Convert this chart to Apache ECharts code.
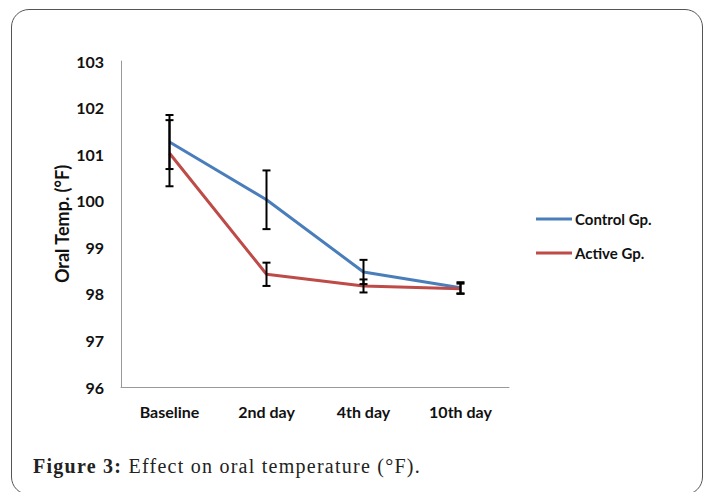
<!DOCTYPE html>
<html>
<head>
<meta charset="utf-8">
<script src="https://cdn.jsdelivr.net/npm/echarts@6/dist/echarts.min.js"></script>
<style>
  html, body { margin: 0; padding: 0; background: #fff; }
  #frame {
    position: absolute; left: 11px; top: 9px; width: 692px; height: 486px;
    border: 1px solid #555; border-radius: 18px; box-sizing: border-box;
  }
  #main { position: absolute; left: 0; top: 0; width: 710px; height: 492px; }
  #caption {
    position: absolute; left: 33px; top: 455px; letter-spacing: 1.25px;
    font-family: "Liberation Serif", "DejaVu Serif", serif; font-size: 20px; color: #222;
  }
</style>
</head>
<body>
<div id="frame"></div>
<div id="main"></div>
<div id="caption"><b>Figure 3:</b> Effect on oral temperature (°F).</div>
<script>
// values
let days = ['Baseline', '2nd day', '4th day', '10th day'];
let controlMean = [101.26, 100.02, 98.47, 98.13];
let controlErr = [0.58, 0.63, 0.26, 0.12];
let activeMean = [101.02, 98.42, 98.17, 98.11];
let activeErr = [0.71, 0.25, 0.14, 0.11];

let blue = '#4a7ebb';
let red = '#be4b48';

// error bar data: [index, low, high]
function errData(mean, err) {
    return mean.map((m, i) => [i, m - err[i], m + err[i]]);
}

function renderErr(params, api) {
    let lo = api.coord([api.value(0), api.value(1)]);
    let hi = api.coord([api.value(0), api.value(2)]);
    let w = 4;
    let st = { stroke: '#000', lineWidth: 2 };
    return {
        type: 'group',
        children: [
            { type: 'line', shape: { x1: lo[0], y1: lo[1], x2: hi[0], y2: hi[1] }, style: st },
            { type: 'line', shape: { x1: lo[0] - w, y1: lo[1], x2: lo[0] + w, y2: lo[1] }, style: st },
            { type: 'line', shape: { x1: hi[0] - w, y1: hi[1], x2: hi[0] + w, y2: hi[1] }, style: st }
        ]
    };
}

let chart = echarts.init(document.getElementById('main'), null, { renderer: 'svg' });
let labelFont = { fontFamily: 'Lato, "Open Sans", sans-serif', fontWeight: 'bold', fontSize: 16, color: '#111' };

let option = {
    animation: false,
    grid: { left: 121, top: 61, width: 388, height: 326 },
    legend: {
        orient: 'vertical',
        left: 536, top: 210,
        padding: 0,
        itemGap: 16,
        itemWidth: 36, itemHeight: 3,
        icon: 'rect',
        textStyle: Object.assign({}, labelFont, { fontSize: 15, lineHeight: 18, padding: [0, 0, 0, -2] }),
        data: ['Control Gp.', 'Active Gp.']
    },
    xAxis: {
        type: 'category',
        data: days,
        boundaryGap: true,
        axisLine: { lineStyle: { color: '#999', width: 1 } },
        axisTick: { show: false },
        axisLabel: Object.assign({ margin: 16 }, labelFont)
    },
    yAxis: {
        type: 'value',
        min: 96, max: 103, interval: 1,
        name: 'Oral Temp. (°F)',
        nameLocation: 'middle',
        nameGap: 50,
        nameMoveOverlap: false,
        nameTextStyle: Object.assign({}, labelFont, { fontSize: 18 }),
        splitLine: { show: false },
        axisLine: { show: true, lineStyle: { color: '#999', width: 1 } },
        axisTick: { show: false },
        axisLabel: Object.assign({ margin: 17 }, labelFont)
    },
    series: [
        {
            name: 'Control Gp.', type: 'line', data: controlMean,
            showSymbol: false, symbol: 'none',
            lineStyle: { color: blue, width: 3 }, itemStyle: { color: blue }, z: 2
        },
        {
            name: 'Active Gp.', type: 'line', data: activeMean,
            showSymbol: false, symbol: 'none',
            lineStyle: { color: red, width: 3 }, itemStyle: { color: red }, z: 2
        },
        { type: 'custom', renderItem: renderErr, data: errData(controlMean, controlErr), encode: { x: 0, y: [1, 2] }, z: 3 },
        { type: 'custom', renderItem: renderErr, data: errData(activeMean, activeErr), encode: { x: 0, y: [1, 2] }, z: 3 }
    ]
};
chart.setOption(option);
</script>
</body>
</html>
